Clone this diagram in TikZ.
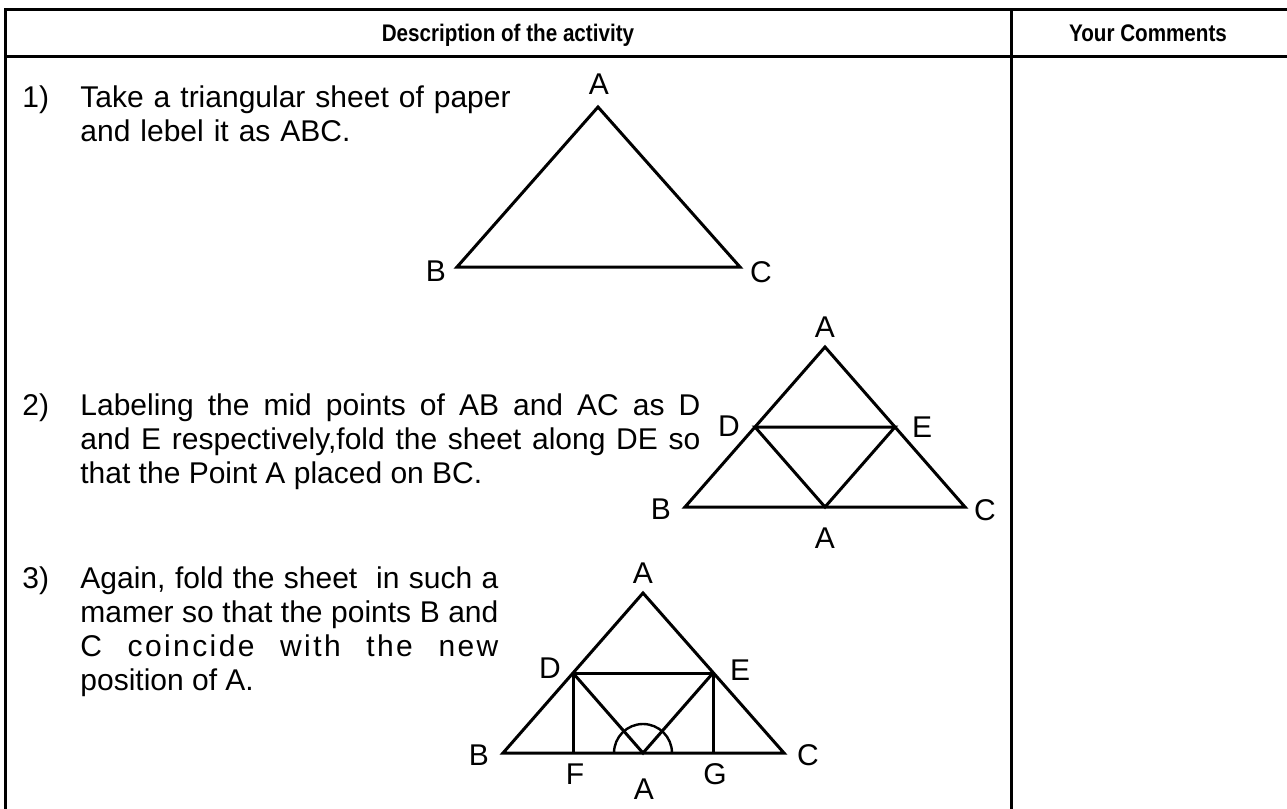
\documentclass[tikz,border=0pt]{standalone}
\usepackage{fontspec}
\setmainfont{Liberation Sans}
\newfontfamily\headfont{Liberation Sans}[FakeStretch=0.86]
\begin{document}
\begin{tikzpicture}[x=0.5pt, y=-0.5pt,
  every node/.style={font=\fontsize{15}{17}\selectfont, inner sep=0pt},
  hd/.style={anchor=base, font=\headfont\fontsize{12}{14}\selectfont\bfseries},
  itemtext/.style={anchor=base west, align=justify},
  rule/.style={line width=1.5pt},
  fig/.style={line width=1.5pt}]
  \useasboundingbox[fill=white] (0,0) rectangle (1287,809);
  % table frame
  \draw[rule] (1287,9) -- (5,9) -- (5,809);
  \draw[rule] (5,56) -- (1287,56);
  \draw[rule] (1011,9) -- (1011,809);
  \node[hd] (hdesc) at (508,41) {Description of the activity};
  \node[hd] (hcom) at (1148,41) {Your Comments};
  % step texts
  \node[anchor=base west] (num1) at (22,107) {1)};
  \node[itemtext, align=left, text width=225pt] (txt1) at (80,107) {Take a triangular sheet of paper\\and lebel it as ABC.};
  \node[anchor=base west] (num2) at (22,415) {2)};
  \node[itemtext, text width=310pt] (txt2) at (80,415) {Labeling the mid points of AB and AC as D\linebreak and E respectively,fold the sheet along DE so\linebreak that the Point A placed on BC.};
  \node[anchor=base west] (num3) at (22,588) {3)};
  \node[itemtext, text width=209pt] (txt3) at (80,588) {Again, fold the sheet\ \ in such a\linebreak mamer so that the points B and\linebreak {\addfontfeature{LetterSpace=8}C coincide with the new}\linebreak position of A.};
  % triangle 1
  \coordinate (A1) at (598,107);
  \coordinate (B1) at (457,267);
  \coordinate (C1) at (740,267);
  \draw[fig] (A1) -- (B1) -- (C1) -- cycle;
  \node (lA1) at (599,84) {A};
  \node (lB1) at (436,271) {B};
  \node (lC1) at (761,272) {C};
  % triangle 2, A folded onto BC
  \coordinate (A2) at (825,347);
  \coordinate (B2) at (685,507);
  \coordinate (C2) at (965,507);
  \coordinate (D2) at (755,427);
  \coordinate (E2) at (895,427);
  \coordinate (P2) at (825,507);
  \draw[fig] (A2) -- (B2) -- (C2) -- cycle;
  \draw[fig] (D2) -- (E2) -- (P2) -- cycle;
  \node (lA2) at (825,327) {A};
  \node (lD2) at (729,426) {D};
  \node (lE2) at (922,427) {E};
  \node (lB2) at (661,509) {B};
  \node (lC2) at (985,510) {C};
  \node (lP2) at (825,538) {A};
  % triangle 3, B and C folded onto A
  \coordinate (A3) at (643,593);
  \coordinate (B3) at (503,753);
  \coordinate (C3) at (784,753);
  \coordinate (D3) at (573,673);
  \coordinate (E3) at (713,673);
  \coordinate (P3) at (643,753);
  \coordinate (F3) at (573,753);
  \coordinate (G3) at (713,753);
  \draw[fig] (A3) -- (B3) -- (C3) -- cycle;
  \draw[fig] (F3) -- (D3) -- (E3) -- (G3);
  \draw[fig] (D3) -- (P3) -- (E3);
  \draw[line width=1.2pt] (P3) ++(-29,0) arc[start angle=180, end angle=360, radius=29];
  \node (lA3) at (643,573) {A};
  \node (lD3) at (550,668) {D};
  \node (lE3) at (740,670) {E};
  \node (lB3) at (479,755) {B};
  \node (lC3) at (808,755) {C};
  \node (lF3) at (575,774) {F};
  \node (lP3) at (644,789) {A};
  \node (lG3) at (715,774) {G};
\end{tikzpicture}
\end{document}
